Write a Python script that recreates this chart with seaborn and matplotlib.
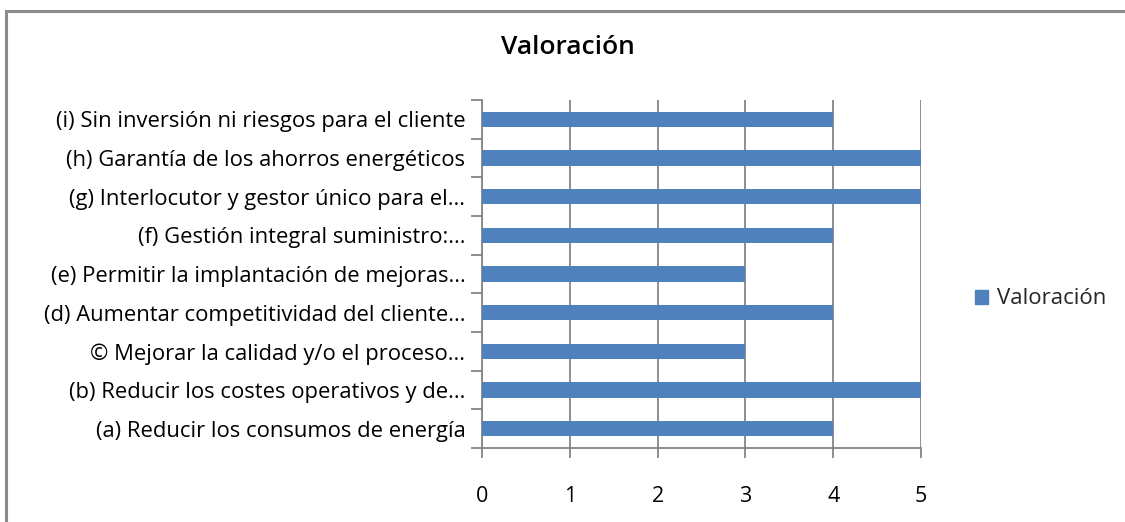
import matplotlib
matplotlib.use("Agg")
import matplotlib.pyplot as plt
import matplotlib.patches as mpatches
from matplotlib.ticker import FixedLocator
import seaborn as sns
import pandas as pd

criterios = [
    "(i) Sin inversión ni riesgos para el cliente",
    "(h) Garantía de los ahorros energéticos",
    "(g) Interlocutor y gestor único para el...",
    "(f) Gestión integral suministro:...",
    "(e) Permitir la implantación de mejoras...",
    "(d) Aumentar competitividad del cliente...",
    "© Mejorar la calidad y/o el proceso...",
    "(b) Reducir los costes operativos y de...",
    "(a) Reducir los consumos de energía",
]
valoracion = [4, 5, 5, 4, 3, 4, 3, 5, 4]
x_ticks = [0, 1, 2, 3, 4, 5]

sns.set_theme(style="white")
plt.rcParams["font.family"] = ["Open Sans", "DejaVu Sans"]

df = pd.DataFrame({"criterio": criterios, "valoracion": valoracion})

bar_color = "#4F81BD"
grid_color = "#868686"

fig = plt.figure(figsize=(11.25, 5.22), dpi=100)
fig.patch.set_facecolor("white")

# chart frame (cropped on right and bottom)
frame = mpatches.Rectangle((6 / 1125, -0.1), 1.2, 1 - 11 / 522 + 0.1,
                           transform=fig.transFigure, fill=False,
                           edgecolor="#8C8C8C", linewidth=2.2, zorder=0)
fig.patches.append(frame)

ax = fig.add_axes([482 / 1125, 1 - 448 / 522, (921 - 482) / 1125, (448 - 100) / 522])
sns.barplot(data=df, x="valoracion", y="criterio", orient="h",
            color=bar_color, saturation=1, width=0.4, linewidth=0,
            ax=ax, zorder=3)

ax.set_xlim(0, 5)
ax.set_ylim(len(criterios) - 0.5, -0.5)
ax.set_xticks(x_ticks)
ax.set_xticklabels([str(t) for t in x_ticks], fontsize=15.5, color="black")
ax.xaxis.grid(True, color=grid_color, linewidth=1.3, zorder=0)
ax.set_axisbelow(True)

for side in ["top", "right"]:
    ax.spines[side].set_visible(False)
for side in ["left", "bottom"]:
    ax.spines[side].set_color(grid_color)
    ax.spines[side].set_linewidth(1.3)

ax.tick_params(axis="x", direction="out", length=7, width=1.3, color=grid_color,
               pad=20, bottom=True)
ax.tick_params(axis="y", which="major", length=0, pad=12, labelsize=15.8,
               labelcolor="black")
ax.yaxis.set_minor_locator(FixedLocator([i - 0.5 for i in range(len(criterios) + 1)]))
ax.tick_params(axis="y", which="minor", direction="out", length=8, width=1.3,
               color=grid_color, left=True)

ax.set_xlabel("")
ax.set_ylabel("")

fig.text(568 / 1125, 1 - 48 / 522, "Valoración", ha="center", va="center",
         fontsize=19, fontweight="semibold", color="black")

handle = mpatches.Patch(color=bar_color, label="Valoración")
fig.legend(handles=[handle], loc="center left",
           bbox_to_anchor=(955 / 1125, 1 - 299 / 522), frameon=False,
           fontsize=16, handlelength=0.6, handleheight=0.6, handletextpad=0.4)

fig.savefig("out.png", dpi=100, facecolor="white")
